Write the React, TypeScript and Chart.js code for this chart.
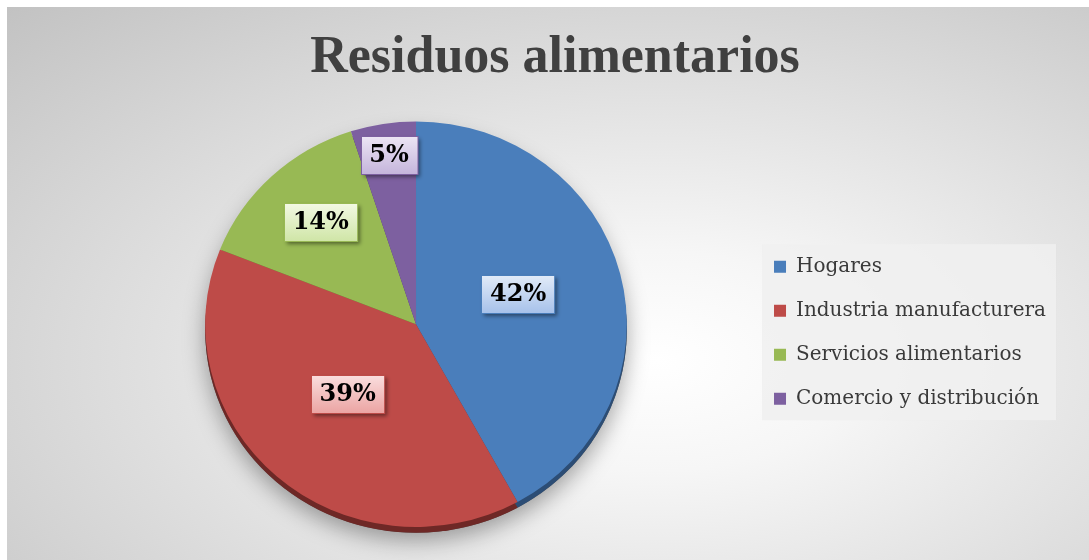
import React, { useEffect, useRef } from "react";
import { Chart, registerables } from "chart.js";

Chart.register(...registerables);

const TITLE = "Residuos alimentarios";
const CATEGORIES = ["Hogares", "Industria manufacturera", "Servicios alimentarios", "Comercio y distribución"];
const VALUES = [42, 39, 14, 5];
const LABELS = ["42%", "39%", "14%", "5%"];
const COLORS = ["#4A7EBB", "#BE4B48", "#98B954", "#7D60A0"];
const DARK = ["#2c4d75", "#6e2826", "#5a7230", "#4b3865"];
const BOX_GRAD = [
  ["#e2ebf8", "#a6c1ea"],
  ["#fadede", "#eba3a2"],
  ["#f3f9e4", "#cfe5a6"],
  ["#ece5f4", "#c4b4db"],
];
const LABEL_RADIUS = [0.5, 0.49, 0.66, 0.82];
const SCALE_Y = 0.962;

const pie3d = {
  id: "pie3d",
  afterLayout(chart: any) {
    const t = chart.titleBlock;
    if (t) {
      t.left -= 14;
      t.right -= 14;
    }
  },
  beforeDraw(chart: any) {
    const lg = chart.legend;
    if (!lg || !lg.legendHitBoxes || !lg.legendHitBoxes.length) return;
    const hb = lg.legendHitBoxes;
    const ctx = chart.ctx;
    const left = hb[0].left - 12;
    const top = hb[0].top - 12.5;
    const bottom = hb[hb.length - 1].top + 31.5;
    ctx.save();
    ctx.fillStyle = "rgba(240,240,240,0.85)";
    ctx.fillRect(left, top, 294, bottom - top);
    ctx.restore();
  },
  beforeDatasetsDraw(chart: any) {
    const ctx = chart.ctx;
    const arcs = chart.getDatasetMeta(0).data;
    if (!arcs.length) return;
    const { x, y, outerRadius } = arcs[0].getProps(["x", "y", "outerRadius"], true);
    ctx.save();
    ctx.translate(x, y);
    ctx.scale(1, SCALE_Y);
    ctx.translate(-x, -y);
    // soft shadow
    ctx.save();
    ctx.shadowColor = "rgba(0,0,0,0.35)";
    ctx.shadowBlur = 22;
    ctx.shadowOffsetY = 8;
    ctx.beginPath();
    ctx.arc(x, y + 6, outerRadius, 0, Math.PI * 2);
    ctx.fillStyle = "#555";
    ctx.fill();
    ctx.restore();
    // dark side
    arcs.forEach((arc: any, i: number) => {
      const p = arc.getProps(["startAngle", "endAngle"], true);
      ctx.beginPath();
      ctx.moveTo(x, y + 6);
      ctx.arc(x, y + 6, outerRadius, p.startAngle, p.endAngle);
      ctx.closePath();
      ctx.fillStyle = DARK[i];
      ctx.fill();
    });
  },
  afterDatasetsDraw(chart: any) {
    const ctx = chart.ctx;
    ctx.restore();
    const arcs = chart.getDatasetMeta(0).data;
    ctx.save();
    ctx.font = "bold 24px 'DejaVu Serif'";
    ctx.textAlign = "center";
    ctx.textBaseline = "middle";
    arcs.forEach((arc: any, i: number) => {
      const p = arc.getProps(["x", "y", "startAngle", "endAngle", "outerRadius"], true);
      const mid = (p.startAngle + p.endAngle) / 2;
      const r = p.outerRadius * LABEL_RADIUS[i];
      const lx = p.x + Math.cos(mid) * r;
      const ly = p.y + Math.sin(mid) * r * SCALE_Y - 5;
      const text = LABELS[i];
      const w = ctx.measureText(text).width + 17;
      const h = 38;
      const bx = Math.round(lx - w / 2) + 0.5;
      const by = Math.round(ly - h / 2) + 0.5;
      ctx.save();
      ctx.shadowColor = "rgba(0,0,0,0.45)";
      ctx.shadowBlur = 4;
      ctx.shadowOffsetX = 2;
      ctx.shadowOffsetY = 2;
      const g = ctx.createLinearGradient(0, by, 0, by + h);
      g.addColorStop(0, BOX_GRAD[i][0]);
      g.addColorStop(1, BOX_GRAD[i][1]);
      ctx.fillStyle = g;
      ctx.fillRect(bx, by, w, h);
      ctx.restore();
      ctx.strokeStyle = COLORS[i];
      ctx.lineWidth = 1;
      ctx.strokeRect(bx, by, w, h);
      ctx.fillStyle = "#000";
      ctx.fillText(text, lx, ly + 1);
    });
    ctx.restore();
  },
};

export default function App() {
  const ref = useRef<HTMLCanvasElement>(null);
  useEffect(() => {
    if (!ref.current) return;
    const chart = new Chart(ref.current, {
      type: "pie",
      data: {
        labels: CATEGORIES,
        datasets: [
          {
            data: VALUES,
            backgroundColor: COLORS,
            borderWidth: 0,
          },
        ],
      },
      options: {
        responsive: false,
        devicePixelRatio: 1,
        animation: false,
        layout: { padding: { left: 75, right: 33, top: 0, bottom: 25 } },
        plugins: {
          tooltip: { enabled: false },
          title: {
            display: true,
            text: TITLE,
            color: "#404040",
            font: { family: "'Liberation Serif'", size: 52, weight: "bold", lineHeight: 1.2 },
            padding: { top: 20, bottom: 24 },
          },
          legend: {
            display: true,
            position: "right",
            align: "center",
            fullSize: false,
            title: { display: true, text: "", font: { size: 10, lineHeight: 1 }, padding: { top: 0, bottom: 7 } },
            labels: {
              color: "#3a3a3a",
              font: { family: "'DejaVu Serif'", size: 20 },
              boxWidth: 12,
              boxHeight: 12,
              padding: 24,
            },
          },
        },
      } as any,
      plugins: [pie3d],
    });
    return () => chart.destroy();
  }, []);
  return (
    <div style={{ position: "fixed", left: 0, top: 0, width: 1089, height: 560, background: "#fff" }}>
      <div
        style={{
          position: "absolute",
          left: 7,
          top: 7,
          width: 1082,
          height: 553,
          background:
            "radial-gradient(ellipse farthest-corner at 60% 64%, #ffffff 0%, #f6f6f6 22%, #c2c2c2 100%)",
        }}
      >
        <canvas ref={ref} width={1082} height={553} style={{ display: "block", width: 1082, height: 553 }} />
      </div>
    </div>
  );
}
